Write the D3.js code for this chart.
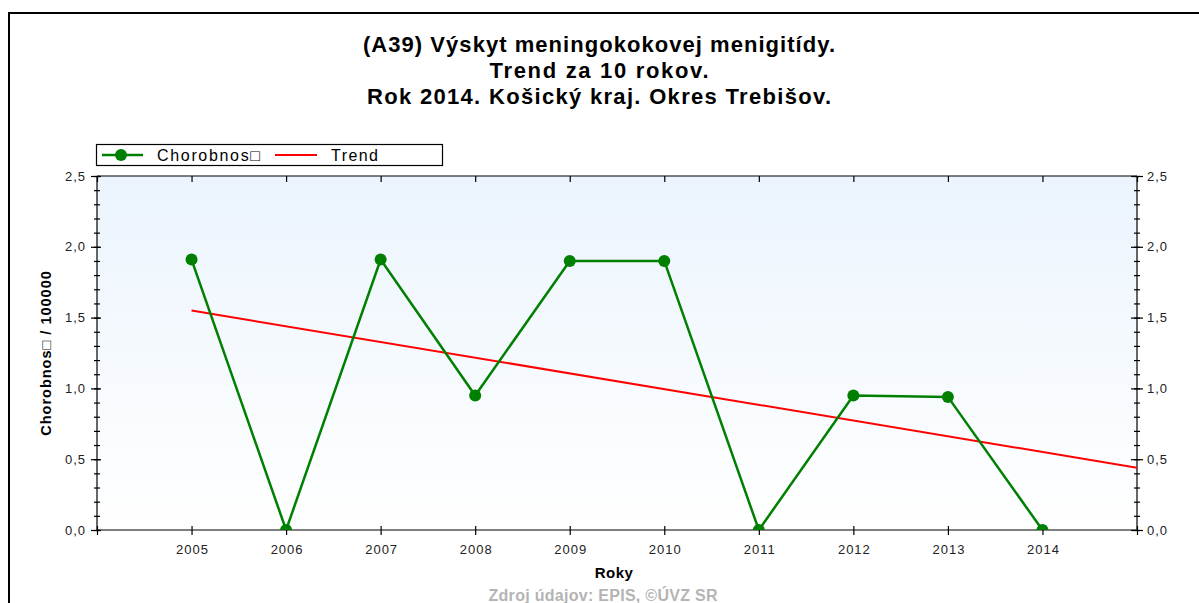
<!DOCTYPE html>
<html>
<head>
<meta charset="utf-8">
<script src="https://cdn.jsdelivr.net/npm/d3@7"></script>
<style>
  html, body { margin: 0; padding: 0; background: #fff; }
  svg { display: block; }
  text { font-family: "Liberation Sans", Arial, sans-serif; }
</style>
</head>
<body>
<svg id="chart" width="1199" height="603"></svg>
<script>
// ---- data ----
const years = [2005, 2006, 2007, 2008, 2009, 2010, 2011, 2012, 2013, 2014];
const morbidity = [1.91, 0, 1.91, 0.95, 1.90, 1.90, 0, 0.95, 0.94, 0];
const trendYears = [2005, 2015];
const trendValues = [1.55, 0.44];
const yTicks = [0, 0.5, 1.0, 1.5, 2.0, 2.5];
const titleLines = [
  "(A39) Výskyt meningokokovej menigitídy.",
  "Trend za 10 rokov.",
  "Rok 2014. Košický kraj. Okres Trebišov."
];
const seriesName = "Chorobnos\u25A1";
const trendName = "Trend";
const yTitle = "Chorobnos\u25A1 / 100000";
const xTitle = "Roky";
const footer = "Zdroj údajov: EPIS, ©ÚVZ SR";

// ---- layout ----
const svg = d3.select("#chart");
const L = 97, R = 1137, T = 176, B = 530;

const x = d3.scaleLinear().domain([2004, 2015]).range([L, R]);
const y = d3.scaleLinear().domain([0, 2.5]).range([B, T]);

// outer border
svg.append("rect").attr("x", 9).attr("y", 13).attr("width", 1300).attr("height", 700)
  .attr("fill", "none").attr("stroke", "#000").attr("stroke-width", 2);

// title
const titleWidths = [472, 219, 464];
const title = svg.append("text").attr("text-anchor", "middle")
  .attr("font-size", 22).attr("font-weight", "bold").attr("fill", "#000");
titleLines.forEach((t, i) => {
  title.append("tspan").attr("x", 599).attr("y", 52 + i * 26)
    .attr("textLength", titleWidths[i]).attr("lengthAdjust", "spacing").text(t);
});

// plot background gradient
const defs = svg.append("defs");
const grad = defs.append("linearGradient").attr("id", "bg").attr("x1", 0).attr("y1", 0).attr("x2", 0).attr("y2", 1);
grad.append("stop").attr("offset", "0%").attr("stop-color", "#ebf4fd");
grad.append("stop").attr("offset", "100%").attr("stop-color", "#ffffff");
defs.append("clipPath").attr("id", "clip").append("rect")
  .attr("x", L).attr("y", T).attr("width", R - L).attr("height", B - T);

svg.append("rect").attr("x", L).attr("y", T).attr("width", R - L).attr("height", B - T)
  .attr("fill", "url(#bg)");

// axes
const minorTicks = d3.range(0, 26).map(d => d / 10);
const xTickVals = d3.range(2004, 2016);
const fmt = d => d3.format(".1f")(d).replace(".", ",");

// left axis
svg.append("g").attr("transform", `translate(${L},0)`)
  .call(d3.axisLeft(y).tickValues(minorTicks).tickSize(3).tickFormat(""))
  .call(g => g.selectAll(".tick line").attr("x2", 3).attr("x1", -3))
  .call(g => g.select(".domain").remove());
svg.append("g").attr("class", "yl").attr("transform", `translate(${L},0)`)
  .call(d3.axisLeft(y).tickValues(yTicks).tickSize(6).tickPadding(6).tickFormat(fmt))
  .call(g => g.selectAll(".tick line").attr("x1", -6).attr("x2", 4))
  .call(g => g.select(".domain").attr("d", `M0,${T}V${B}`));

// right axis
svg.append("g").attr("transform", `translate(${R},0)`)
  .call(d3.axisRight(y).tickValues(minorTicks).tickSize(3).tickFormat(""))
  .call(g => g.selectAll(".tick line").attr("x1", -3).attr("x2", 3))
  .call(g => g.select(".domain").remove());
svg.append("g").attr("class", "yr").attr("transform", `translate(${R},0)`)
  .call(d3.axisRight(y).tickValues(yTicks).tickSize(6).tickPadding(4).tickFormat(fmt))
  .call(g => g.selectAll(".tick line").attr("x1", -6).attr("x2", 6))
  .call(g => g.select(".domain").attr("d", `M0,${T}V${B}`));

// bottom axis
svg.append("g").attr("class", "xb").attr("transform", `translate(0,${B})`)
  .call(d3.axisBottom(x).tickValues(xTickVals).tickSize(4).tickPadding(11)
    .tickFormat(d => (d >= 2005 && d <= 2014) ? d : ""))
  .call(g => g.selectAll(".tick line").attr("y1", -4).attr("y2", 5))
  .call(g => g.select(".domain").attr("d", `M${L},0H${R}`));

// top axis
svg.append("g").attr("transform", `translate(0,${T})`)
  .call(d3.axisTop(x).tickValues(xTickVals).tickSize(0).tickFormat(""))
  .call(g => g.selectAll(".tick line").attr("y1", 0).attr("y2", 6))
  .call(g => g.select(".domain").attr("d", `M${L},0H${R}`));

svg.selectAll(".domain, .tick line").attr("stroke", "#000").attr("stroke-width", 1.2);
svg.selectAll(".tick text").attr("font-size", 13).attr("fill", "#222")
  .attr("letter-spacing", 1)
  .attr("font-family", "'Liberation Sans', Arial, sans-serif");
svg.selectAll(".yl .tick text").attr("dx", 1);
svg.selectAll(".xb .tick text").attr("dx", 0.5);

// axis titles
svg.append("text").attr("transform", `translate(51,${(T + B) / 2}) rotate(-90)`)
  .attr("text-anchor", "middle").attr("font-size", 14.5).attr("font-weight", "bold")
  .attr("letter-spacing", 1).text(yTitle);
svg.append("text").attr("x", 614).attr("y", 578).attr("text-anchor", "middle")
  .attr("font-size", 15).attr("font-weight", "bold").attr("letter-spacing", 0.5).text(xTitle);

// footer
svg.append("text").attr("x", 603).attr("y", 601).attr("text-anchor", "middle")
  .attr("font-size", 16).attr("font-weight", "bold").attr("fill", "#b4b4b4")
  .attr("textLength", 229).attr("lengthAdjust", "spacing").text(footer);

// data
const plot = svg.append("g").attr("clip-path", "url(#clip)");
const trendData = trendYears.map((yr, i) => ({ yr, v: trendValues[i] }));
plot.append("path").datum(trendData)
  .attr("d", d3.line().x(d => x(d.yr)).y(d => y(d.v)))
  .attr("fill", "none").attr("stroke", "#ff0000").attr("stroke-width", 2);

const data = years.map((yr, i) => ({ yr, v: morbidity[i] }));
plot.append("path").datum(data)
  .attr("d", d3.line().x(d => x(d.yr)).y(d => y(d.v)))
  .attr("fill", "none").attr("stroke", "#008000").attr("stroke-width", 2.5);
plot.selectAll("circle").data(data).enter().append("circle")
  .attr("cx", d => x(d.yr)).attr("cy", d => y(d.v)).attr("r", 6)
  .attr("fill", "#008000");

// legend
const lg = svg.append("g");
lg.append("rect").attr("x", 96.5).attr("y", 144.5).attr("width", 346).attr("height", 21)
  .attr("fill", "#fff").attr("stroke", "#000").attr("stroke-width", 1.2);
lg.append("line").attr("x1", 102).attr("x2", 143).attr("y1", 155).attr("y2", 155)
  .attr("stroke", "#008000").attr("stroke-width", 2.5);
lg.append("circle").attr("cx", 121).attr("cy", 155).attr("r", 6).attr("fill", "#008000");
lg.append("text").attr("x", 157).attr("y", 161).attr("font-size", 16)
  .attr("textLength", 103).attr("lengthAdjust", "spacing").text(seriesName);
lg.append("line").attr("x1", 275).attr("x2", 317).attr("y1", 155).attr("y2", 155)
  .attr("stroke", "#ff0000").attr("stroke-width", 2);
lg.append("text").attr("x", 331).attr("y", 161).attr("font-size", 16)
  .attr("textLength", 47).attr("lengthAdjust", "spacing").text(trendName);
</script>
</body>
</html>
